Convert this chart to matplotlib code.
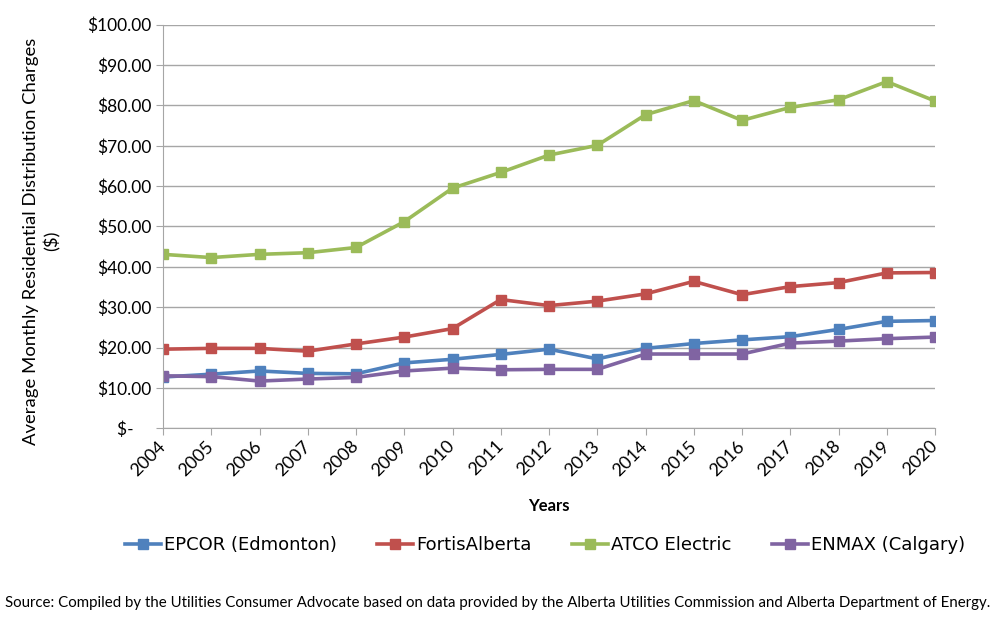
import matplotlib
matplotlib.use("Agg")
import matplotlib.pyplot as plt
from matplotlib.ticker import FuncFormatter

years = list(range(2004, 2021))
epcor = [12.7, 13.4, 14.2, 13.6, 13.5, 16.2, 17.1, 18.3, 19.6, 17.2, 19.8, 21.0, 21.9, 22.7, 24.5, 26.5, 26.7]
fortis = [19.6, 19.8, 19.8, 19.1, 20.9, 22.6, 24.7, 31.9, 30.4, 31.5, 33.3, 36.4, 33.1, 35.1, 36.1, 38.5, 38.6]
atco = [43.1, 42.3, 43.1, 43.5, 44.8, 51.2, 59.5, 63.4, 67.7, 70.1, 77.7, 81.2, 76.3, 79.5, 81.4, 85.9, 81.1]
enmax = [13.0, 12.8, 11.7, 12.2, 12.6, 14.2, 14.9, 14.5, 14.6, 14.6, 18.4, 18.4, 18.4, 21.1, 21.6, 22.2, 22.6]

series = [
    ("EPCOR (Edmonton)", epcor, "#4F81BD"),
    ("FortisAlberta", fortis, "#C0504D"),
    ("ATCO Electric", atco, "#9BBB59"),
    ("ENMAX (Calgary)", enmax, "#8064A2"),
]

fig = plt.figure(figsize=(10, 6.18), dpi=100)
ax = fig.add_axes([0.163, 0.307, 0.772, 0.653])

for name, vals, col in series:
    ax.plot(years, vals, color=col, lw=2.6, marker="s", ms=7, label=name)

ax.set_xlim(2004, 2020)
ax.set_ylim(0, 100)
ax.set_xticks(years)
ax.set_xticklabels([str(y) for y in years], rotation=45, fontsize=13, family="Lato",
                   ha="right", va="center", rotation_mode="anchor")
ax.set_yticks(range(0, 101, 10))


def money(v, pos):
    if v == 0:
        return "$-    "
    return f"${v:.2f}"


ax.yaxis.set_major_formatter(FuncFormatter(money))
for lab in ax.get_yticklabels():
    lab.set_family("Lato")
    lab.set_fontsize(12.5)

ax.grid(axis="y", color="#A6A6A6", lw=1)
ax.set_axisbelow(True)
for s in ["top", "right"]:
    ax.spines[s].set_visible(False)
for s in ["left", "bottom"]:
    ax.spines[s].set_color("#A6A6A6")
ax.tick_params(axis="both", color="#A6A6A6", length=5, pad=3)
ax.tick_params(axis="x", pad=6)

ax.set_xlabel("Years", fontsize=12, fontweight="bold", family="Lato", labelpad=14)

fig.text(0.042, 0.61, "Average Monthly Residential Distribution Charges\n($)",
         rotation=90, ha="center", va="center", fontsize=13.3, family="Lato",
         linespacing=1.3, multialignment="center")

fig.legend(loc="center", bbox_to_anchor=(0.545, 0.118), ncol=4, frameon=False,
           fontsize=13, handlelength=2.0, columnspacing=2.2, handletextpad=0.2)

fig.text(0.005, 0.025, "Source: Compiled by the Utilities Consumer Advocate based on data provided by the "
         "Alberta Utilities Commission and Alberta Department of Energy.",
         fontsize=10.8, family="Lato", ha="left", va="center")

fig.savefig("out.png", dpi=100)
